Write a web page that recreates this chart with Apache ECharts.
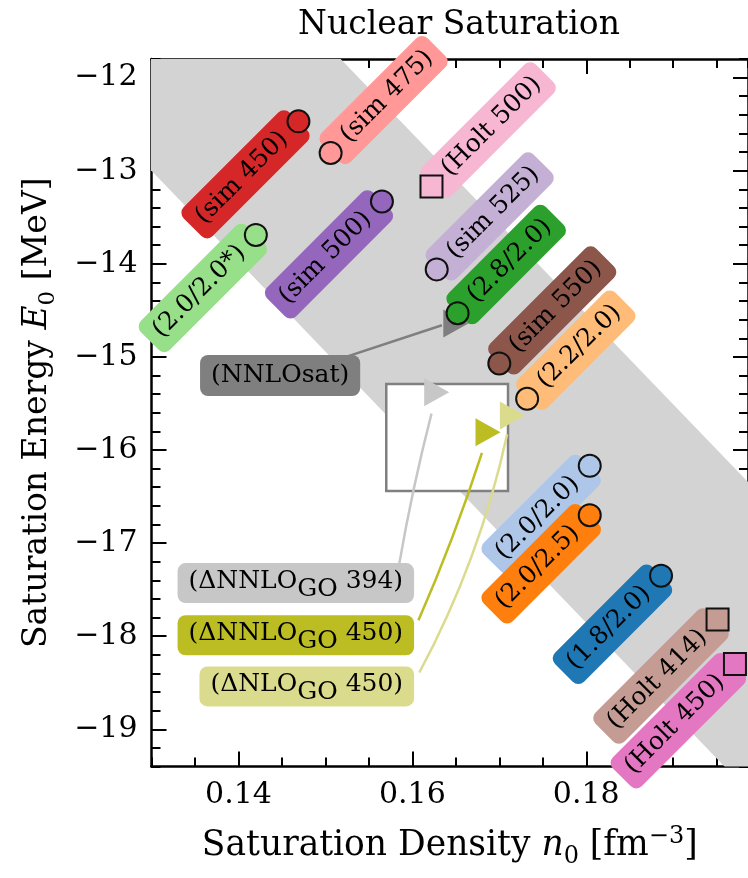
<!DOCTYPE html>
<html><head><meta charset="utf-8">
<script src="https://cdn.jsdelivr.net/npm/echarts@6/dist/echarts.min.js"></script>
<style>html,body{margin:0;padding:0;background:#fff}#c{width:748px;height:878px}</style>
</head><body><div id="c"></div>
<script>
// ---------------- data ----------------
const pointNames = ['(sim 450)','(sim 475)','(Holt 500)','(sim 500)','(2.0/2.0*)','(sim 525)','(2.8/2.0)','(sim 550)','(2.2/2.0)','(2.0/2.0)','(2.0/2.5)','(1.8/2.0)','(Holt 414)','(Holt 450)'];
const pointDensity = [0.1469,0.1506,0.1622,0.1565,0.1420,0.1628,0.1652,0.1700,0.1732,0.1804,0.1804,0.1886,0.1951,0.1971];
const pointEnergy = [-12.47,-12.81,-13.17,-13.33,-13.69,-14.06,-14.53,-15.07,-15.45,-16.17,-16.70,-17.35,-17.82,-18.30];
const pointMarker = ['circle','circle','square','circle','circle','circle','circle','circle','circle','circle','circle','circle','square','square'];

const deltaNames = ['(NNLOsat)','(ΔNNLO_GO 394)','(ΔNNLO_GO 450)','(ΔNLO_GO 450)'];
const deltaDensity = [0.1650,0.1628,0.1687,0.1715];
const deltaEnergy = [-14.64,-15.38,-15.81,-15.63];

const bandDensity = [0.12,0.21,0.21,0.12];
const bandEnergy = [-8.72,-17.45,-20.77,-12.03];

const boxDensity = [0.157,0.171];
const boxEnergy = [-16.44,-15.29];

const annotAnchorDensity = [0.1540,0.1602,0.1602,0.1602];
const annotAnchorEnergy = [-15.20,-17.43,-17.99,-18.54];
const arrowStartDensity = [0.1501,0.1585,0.1607,0.1608];
const arrowStartEnergy = [-15.07,-17.22,-17.83,-18.39];
const arrowEndDensity = [0.1634,0.1622,0.1680,0.1709];
const arrowEndEnergy = [-14.66,-15.61,-16.03,-15.83];

const xMajorTicks = [0.14,0.16,0.18];
const yMajorTicks = [-19,-18,-17,-16,-15,-14,-13,-12];

// ---------------- styles ----------------
const FONT = 'DejaVu Serif';
const pointColors = ['#d62728','#ff9896','#f7b6d2','#9467bd','#98df8a','#c5b0d5','#2ca02c','#8c564b','#ffbb78','#aec7e8','#ff7f0e','#1f77b4','#c49c94','#e377c2'];
const labelSide = ['left','right','right','left','left','right','right','right','right','left','left','left','left','left'];
const deltaColors = ['#7f7f7f','#c7c7c7','#bcbd22','#dbdb8d'];
const arrowCurve = [0, 0.02, -0.025, -0.07];

const X_MIN = 0.13, X_MAX = 0.1986, Y_MIN = -19.4, Y_MAX = -11.8;

function nameRich(fs) {
  return {
    r: {fontFamily:FONT, fontSize:fs, color:'#000', lineHeight:44, verticalAlign:'middle'},
    i: {fontFamily:FONT, fontStyle:'italic', fontSize:fs, color:'#000', lineHeight:44, verticalAlign:'middle'},
    sub: {fontFamily:FONT, fontSize:Math.round(fs*0.7), color:'#000', lineHeight:26, verticalAlign:'bottom'},
    sup: {fontFamily:FONT, fontSize:Math.round(fs*0.7), color:'#000', lineHeight:26, verticalAlign:'top'}
  };
}

function mkX(pos, major, withLabel) {
  const ax = {
    type:'value', position:pos, min:X_MIN, max:X_MAX, interval:0.005,
    splitLine:{show:false},
    axisLine:{show:!major, onZero:false, lineStyle:{color:'#000', width:2.5}},
    axisTick:{show:true, inside:true, length: major?15:9, lineStyle:{color:'#000', width:2}},
    axisLabel:{show:false}
  };
  if (major) ax.axisTick.customValues = xMajorTicks;
  if (withLabel) {
    ax.axisLabel = {show:true, customValues:xMajorTicks, formatter:v=>v.toFixed(2), fontFamily:FONT, fontSize:30, color:'#000', margin:14};
    ax.name = '{r|Saturation Density }{i|n}{sub|0}{r| [fm}{sup|−3}{r|]}';
    ax.nameLocation = 'middle';
    ax.nameGap = 58;
    ax.nameTextStyle = {rich:nameRich(34.5)};
  }
  return ax;
}
function mkY(pos, major, withLabel) {
  const ax = {
    type:'value', position:pos, min:Y_MIN, max:Y_MAX, interval:0.2,
    splitLine:{show:false},
    axisLine:{show:!major, onZero:false, lineStyle:{color:'#000', width:2.5}},
    axisTick:{show:true, inside:true, length: major?15:9, lineStyle:{color:'#000', width:2}},
    axisLabel:{show:false}
  };
  if (major) ax.axisTick.customValues = yMajorTicks;
  if (withLabel) {
    ax.axisLabel = {show:true, customValues:yMajorTicks, formatter:v=>'\u2212'+Math.abs(Math.round(v)), fontFamily:FONT, fontSize:30, color:'#000', margin:14};
    ax.name = '{r|Saturation Energy }{i|E}{sub|0}{r| [MeV]}';
    ax.nameLocation = 'middle';
    ax.nameGap = 92;
    ax.nameRotate = 90;
    ax.nameTextStyle = {rich:nameRich(33)};
  }
  return ax;
}

function deltaLabel(name) {
  if (name.indexOf('_GO') < 0) return '{p|' + name + '}';
  return '{a|' + name.replace('_GO', '}{s|GO}{a|') + '}';
}

const LBL = 25;
const series = [];
// gray band
series.push({
  type:'custom', z:1, clip:true, silent:true, data:[[0.16,-15]],
  renderItem:(params, api) => ({
    type:'polygon',
    shape:{points: bandDensity.map((n,i)=>api.coord([n, bandEnergy[i]]))},
    style:{fill:'#d3d3d3'}
  })
});
// saturation box
series.push({
  type:'custom', z:2, clip:true, silent:true, data:[[0.16,-16]],
  renderItem:(params, api) => {
    const a = api.coord([boxDensity[0], boxEnergy[1]]);
    const b = api.coord([boxDensity[1], boxEnergy[0]]);
    return {type:'rect', shape:{x:a[0], y:a[1], width:b[0]-a[0], height:b[1]-a[1]},
      style:{fill:'#fff', stroke:'#808080', lineWidth:2.5}};
  }
});
// connectors
series.push({
  type:'lines', coordinateSystem:'cartesian2d', z:3, silent:true, symbol:'none',
  data: arrowStartDensity.map((n,i)=>({
    coords:[[n, arrowStartEnergy[i]], [arrowEndDensity[i], arrowEndEnergy[i]]],
    lineStyle:{color:deltaColors[i], width:2.5, opacity:1, curveness:arrowCurve[i]}
  }))
});
// delta triangles
series.push({
  type:'scatter', z:4, symbol:'triangle', symbolRotate:-90, symbolSize:[28,25],
  itemStyle:{opacity:1},
  data: deltaDensity.map((n,i)=>({value:[n, deltaEnergy[i]], itemStyle:{color:deltaColors[i], opacity:1}}))
});
// rotated label boxes
series.push({
  type:'scatter', z:5, symbolSize:1, itemStyle:{color:'transparent', opacity:1},
  data: pointNames.map((name,i)=>({
    value:[pointDensity[i], pointEnergy[i]],
    label:{show:true, formatter:name, position:'inside', opacity:1,
      align: labelSide[i]==='left' ? 'right' : 'left', verticalAlign:'middle', rotate:45,
      backgroundColor:pointColors[i], borderRadius:8,
      padding: labelSide[i]==='left' ? [8,20,8,10] : [8,10,8,20],
      color:'#000', fontFamily:FONT, fontSize:LBL, textBorderWidth:0}
  }))
});
// annotation label boxes
series.push({
  type:'scatter', z:5, symbolSize:1, itemStyle:{color:'transparent', opacity:1},
  data: deltaNames.map((name,i)=>({
    value:[annotAnchorDensity[i], annotAnchorEnergy[i]],
    label:{show:true, formatter:deltaLabel(name), position:'inside', align:'right', verticalAlign:'middle', opacity:1,
      backgroundColor:deltaColors[i], borderRadius:8,
      padding: name.indexOf('_GO')<0 ? [8,11,8,11] : [6,11,1,11],
      textBorderWidth:0,
      rich:{
        p:{fontFamily:FONT, fontSize:LBL, color:'#000', lineHeight:25},
        a:{fontFamily:FONT, fontSize:LBL, color:'#000', lineHeight:26, verticalAlign:'top'},
        s:{fontFamily:FONT, fontSize:LBL, color:'#000', lineHeight:33, verticalAlign:'bottom'}
      }}
  }))
});
// markers
series.push({
  type:'scatter', z:6, symbolSize:22, itemStyle:{opacity:1},
  data: pointNames.map((name,i)=>({
    value:[pointDensity[i], pointEnergy[i]],
    symbol: pointMarker[i]==='square' ? 'rect' : 'circle',
    itemStyle:{color:pointColors[i], borderColor:'#111', borderWidth:2, opacity:1}
  }))
});

const chart = echarts.init(document.getElementById('c'), null, {renderer:'canvas'});
chart.setOption({
  animation:false,
  backgroundColor:'#fff',
  title:{text:'Nuclear Saturation', left:454, top:4, textAlign:'center',
    textStyle:{fontFamily:FONT, fontWeight:'normal', fontSize:33, color:'#000'}},
  grid:{left:151.5, top:59, right:-7, bottom:111.5, containLabel:false},
  xAxis:[mkX('bottom',false,true), mkX('bottom',true,false), mkX('top',false,false), mkX('top',true,false)],
  yAxis:[mkY('left',false,true), mkY('left',true,false), mkY('right',false,false), mkY('right',true,false)],
  series: series
});
</script>
</body></html>
